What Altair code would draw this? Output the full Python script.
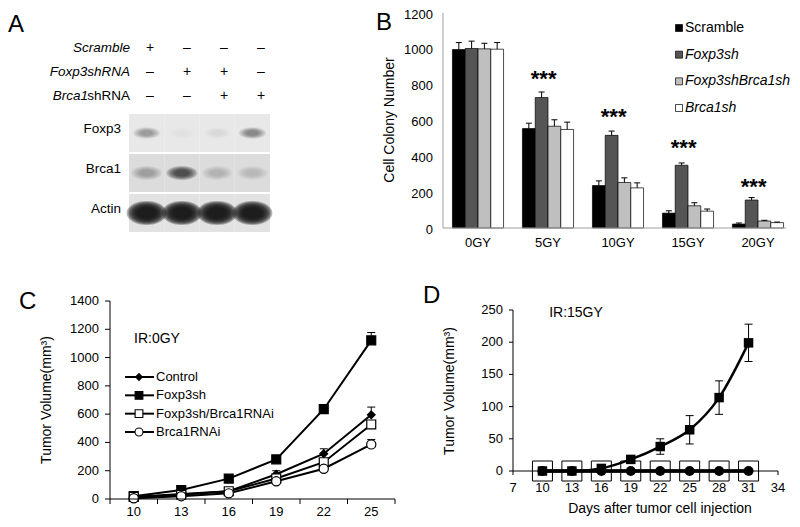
import numpy as np
import pandas as pd
import altair as alt

FONT = "Liberation Sans"
W, H = 784, 511


def px(v):
    return v - 8


# ---------------- Panel A (western blot) ----------------
lanes = ["L1", "L2", "L3", "L4"]
proteins = ["Foxp3", "Brca1", "Actin"]
foxp3_band = [0.35, 0.03, 0.04, 0.45]
brca1_band = [0.30, 0.95, 0.15, 0.13]
actin_band = [2.2, 2.2, 2.2, 2.2]
conditions = ["Scramble", "Foxp3shRNA", "Brca1shRNA"]
scramble_signs = ["+", "–", "–", "–"]
foxp3sh_signs = ["–", "+", "+", "–"]
brca1sh_signs = ["–", "–", "+", "+"]

# ---------------- Panel B (colony numbers) ----------------
doses = ["0GY", "5GY", "10GY", "15GY", "20GY"]
groups_b = ["Scramble", "Foxp3sh", "Foxp3shBrca1sh", "Brca1sh"]
scramble_b = [996, 555, 237, 83, 22]
scramble_b_err = [39, 30, 26, 13, 6]
foxp3sh_b = [1002, 728, 517, 350, 156]
foxp3sh_b_err = [41, 31, 24, 13, 14]
foxp3brca1_b = [1000, 568, 254, 124, 39]
foxp3brca1_b_err = [31, 36, 26, 17, 4]
brca1sh_b = [998, 550, 224, 94, 30]
brca1sh_b_err = [37, 41, 28, 12, 3]
star_doses = ["5GY", "10GY", "15GY", "20GY"]
star_levels = [861, 650, 472, 256]
b_yticks = [0, 200, 400, 600, 800, 1000, 1200]

# ---------------- Panel C (IR 0GY) ----------------
series_c = ["Control", "Foxp3sh", "Foxp3sh/Brca1RNAi", "Brca1RNAi"]
days_c = [10, 13, 16, 19, 22, 25]
control_c = [15, 35, 55, 175, 320, 595]
control_c_err = [4, 5, 8, 25, 35, 55]
foxp3sh_c = [20, 64, 144, 280, 635, 1122]
foxp3sh_c_err = [4, 5, 8, 12, 30, 55]
foxp3brca1_c = [15, 30, 55, 145, 260, 527]
foxp3brca1_c_err = [3, 3, 5, 10, 15, 20]
brca1_c = [5, 20, 40, 125, 214, 386]
brca1_c_err = [3, 3, 5, 10, 15, 35]
c_yticks = [0, 200, 400, 600, 800, 1000, 1200, 1400]

# ---------------- Panel D (IR 15GY) ----------------
days_d = [10, 13, 16, 19, 22, 25, 28, 31]
foxp3sh_d = [0, 0, 4, 18, 38, 64, 114, 199]
foxp3sh_d_err = [0, 0, 2, 3, 12, 22, 26, 29]
control_d = [0, 0, 0, 0, 0, 0, 0, 0]
foxp3brca1_d = [0, 0, 0, 0, 0, 0, 0, 0]
brca1_d = [0, 0, 0, 0, 0, 0, 0, 0]
d_yticks = [0, 50, 100, 150, 200, 250]
d_xticks = [7, 10, 13, 16, 19, 22, 25, 28, 31, 34]

TITLE_Y = "Tumor Volume(mm³)"


# =====================================================================
def ellipse_path(ry, n=40):
    t = np.linspace(0, 2 * np.pi, n, endpoint=False)
    pts = [f"{np.cos(a):.3f},{ry * np.sin(a):.3f}" for a in t]
    return "M" + " L".join(pts) + " Z"


def txt(df, **kw):
    base = dict(fontSize=13, font=FONT, color="black")
    base.update(kw)
    return alt.Chart(df).mark_text(**base)


def note(t, x, y, size=24, align="left", baseline="alphabetic", angle=0):
    return alt.Chart(pd.DataFrame({"t": [t]})).mark_text(
        align=align, baseline=baseline, fontSize=size, font=FONT, color="black", angle=angle
    ).encode(x=alt.value(x), y=alt.value(y), text="t:N")


def labels_df(vals):
    return pd.DataFrame({"v": vals, "lab": [str(v) for v in vals]})


bg_colors = {"Foxp3": "#e8e8e8", "Brca1": "#dcdcdc", "Actin": "#e2e2e2"}
band_geom = {"Foxp3": (22, 0.42), "Brca1": (25, 0.45), "Actin": (32, 0.6)}
halo_scales = [1.25, 1.15, 1.05, 0.95, 0.85, 0.75, 0.65, 0.55]

bg_rows, band_rows = [], []
for p, vals in zip(proteins, [foxp3_band, brca1_band, actin_band]):
    w, ry = band_geom[p]
    for lane, v in zip(lanes, vals):
        bg_rows.append({"lane": lane, "protein": p, "bg": bg_colors[p]})
        for k, s in enumerate(halo_scales):
            band_rows.append({"lane": lane, "protein": p, "lvl": k,
                              "shp": ellipse_path(ry), "sz": (w * s) ** 2,
                              "op": min(1.0, v * 0.15)})
bg_df = pd.DataFrame(bg_rows)
band_df = pd.DataFrame(band_rows)

lane_x = alt.Scale(type="band", domain=lanes, range=[px(129), px(270)],
                   paddingInner=0, paddingOuter=0)
prot_y = alt.Scale(type="band", domain=proteins, range=[px(114), px(232)],
                   paddingInner=0.05, paddingOuter=0)

blot_bg = alt.Chart(bg_df).mark_rect().encode(
    x=alt.X("lane:N", scale=lane_x, axis=None),
    y=alt.Y("protein:N", scale=prot_y, axis=None),
    fill=alt.Fill("bg:N", scale=None),
)
blot_bands = alt.Chart(band_df).mark_point(filled=True, color="#141414", strokeWidth=0).encode(
    x=alt.X("lane:N", scale=lane_x, axis=None),
    y=alt.Y("protein:N", scale=prot_y, axis=None),
    shape=alt.Shape("shp:N", scale=None),
    size=alt.Size("sz:Q", scale=None),
    opacity=alt.Opacity("op:Q", scale=None),
    order=alt.Order("lvl:Q"),
)
prot_labels = txt(pd.DataFrame({"protein": proteins}), align="right", baseline="middle",
                  fontSize=13.5, dy=-4).encode(
    x=alt.value(px(121)),
    y=alt.Y("protein:N", scale=prot_y, axis=None),
    text="protein:N",
)
G1 = alt.layer(blot_bg, blot_bands, prot_labels)

cond_y = alt.Scale(type="point", domain=conditions, range=[px(48), px(96)], padding=0)
sign_x = alt.Scale(type="point", domain=lanes, range=[px(150), px(261)], padding=0)
sign_rows = []
for c, signs in zip(conditions, [scramble_signs, foxp3sh_signs, brca1sh_signs]):
    for lane, s in zip(lanes, signs):
        sign_rows.append({"cond": c, "lane": lane, "sign": s})
sign_df = pd.DataFrame(sign_rows)

signs_layer = txt(sign_df, fontSize=14, baseline="middle", align="center").encode(
    x=alt.X("lane:N", scale=sign_x, axis=None),
    y=alt.Y("cond:N", scale=cond_y, axis=None),
    text="sign:N",
)
cond_df = pd.DataFrame({"cond": conditions,
                        "full": [conditions[0], conditions[1], conditions[2][:5]],
                        "rest": ["", "", conditions[2][5:]]})
cond_italic_full = txt(cond_df, align="right", baseline="middle", fontSize=13.5,
                       fontStyle="italic").transform_filter("datum.rest == ''").encode(
    x=alt.value(px(130)), y=alt.Y("cond:N", scale=cond_y, axis=None), text="full:N")
cond_italic_part = txt(cond_df, align="right", baseline="middle", fontSize=13.5,
                       fontStyle="italic").transform_filter("datum.rest != ''").encode(
    x=alt.value(px(88)), y=alt.Y("cond:N", scale=cond_y, axis=None), text="full:N")
cond_rest = txt(cond_df, align="right", baseline="middle", fontSize=13.5
                ).transform_filter("datum.rest != ''").encode(
    x=alt.value(px(130)), y=alt.Y("cond:N", scale=cond_y, axis=None), text="rest:N")
G2 = alt.layer(signs_layer, cond_italic_full, cond_italic_part, cond_rest)

G3 = alt.layer(
    note("A", px(8), px(32)),
    note("B", px(376), px(30)),
    note("C", px(19), px(309)),
    note("D", px(423), px(303)),
    note("IR:0GY", px(157), px(339), size=14, align="center", baseline="middle"),
    note("IR:15GY", px(576), px(313), size=14, align="center", baseline="middle"),
    note("Cell Colony Number", px(390), px(120), size=14, align="center",
         baseline="middle", angle=270),
    note(TITLE_Y, px(47), px(400), size=14, align="center", baseline="middle", angle=270),
    note(TITLE_Y, px(450), px(391), size=14, align="center", baseline="middle", angle=270),
    note("Days after tumor cell injection", px(660), px(509), size=14, align="center",
         baseline="middle"),
)

# ---------------- Panel B chart ----------------
rows_b = []
for g, vals, errs in zip(groups_b, [scramble_b, foxp3sh_b, foxp3brca1_b, brca1sh_b],
                         [scramble_b_err, foxp3sh_b_err, foxp3brca1_b_err, brca1sh_b_err]):
    for d, v, e in zip(doses, vals, errs):
        rows_b.append({"dose": d, "series": g, "value": v, "top": v + e})
df_b = pd.DataFrame(rows_b)
stars_df = pd.DataFrame({"dose": star_doses, "series": "Foxp3sh", "level": star_levels})

colors_b = ["#000000", "#555555", "#bfbfbf", "#ffffff"]
x_b = alt.Scale(type="band", domain=doses, range=[px(443), px(793)],
                paddingInner=0.27, paddingOuter=0.135)
y_b = alt.Scale(domain=[0, 1200], range=[px(228), px(13)], nice=False, zero=True)
xo_b = alt.Scale(domain=groups_b, paddingInner=0, paddingOuter=0)

bars_b = alt.Chart(df_b).mark_bar(stroke="black", strokeWidth=0.7).encode(
    x=alt.X("dose:N", scale=x_b, sort=doses, axis=None),
    xOffset=alt.XOffset("series:N", scale=xo_b, sort=groups_b),
    y=alt.Y("value:Q", scale=y_b, axis=None),
    fill=alt.Fill("series:N", scale=alt.Scale(domain=groups_b, range=colors_b), legend=None),
)
err_b = alt.Chart(df_b).mark_rule(color="black", strokeWidth=1).encode(
    x=alt.X("dose:N", scale=x_b, axis=None),
    xOffset=alt.XOffset("series:N", scale=xo_b),
    y=alt.Y("value:Q", scale=y_b, axis=None),
    y2="top:Q",
)
cap_b = alt.Chart(df_b).mark_tick(orient="horizontal", size=6, thickness=1, color="black",
                                  opacity=1).encode(
    x=alt.X("dose:N", scale=x_b, axis=None),
    xOffset=alt.XOffset("series:N", scale=xo_b),
    y=alt.Y("top:Q", scale=y_b, axis=None),
)
stars_b = alt.Chart(stars_df).mark_text(
    text="***", fontSize=22, fontWeight="bold", font=FONT, baseline="alphabetic",
    dy=12, dx=2, color="black"
).encode(
    x=alt.X("dose:N", scale=x_b, axis=None),
    xOffset=alt.XOffset("series:N", scale=xo_b),
    y=alt.Y("level:Q", scale=y_b, axis=None),
)
b_ydom = alt.Chart(pd.DataFrame({"lo": [b_yticks[0]], "hi": [b_yticks[-1]]})).mark_rule(
    color="#a0a0a0", strokeWidth=1).encode(
    x=alt.value(px(443)), y=alt.Y("lo:Q", scale=y_b, axis=None), y2="hi:Q")
b_ylab = txt(labels_df(b_yticks), align="right", baseline="middle", dy=1.5).encode(
    x=alt.value(px(433)), y=alt.Y("v:Q", scale=y_b, axis=None), text="lab:N")
b_xdom = alt.Chart(pd.DataFrame({"lo": [b_yticks[0]]})).mark_rule(
    color="#a0a0a0", strokeWidth=1).encode(
    x=alt.value(px(443)), x2=alt.value(px(786)), y=alt.Y("lo:Q", scale=y_b, axis=None))
b_xlab = txt(pd.DataFrame({"dose": doses}), align="center", baseline="middle").encode(
    x=alt.X("dose:N", scale=x_b, axis=None), y=alt.value(px(243)), text="dose:N")
G4 = alt.layer(bars_b, err_b, cap_b, stars_b, b_ydom, b_ylab, b_xdom, b_xlab)

leg_b = pd.DataFrame({"series": groups_b, "col": colors_b})
leg_y_b = alt.Scale(type="point", domain=groups_b, range=[px(28), px(108)], padding=0)
leg_sq = alt.Chart(leg_b).mark_square(size=49, stroke="black", strokeWidth=0.7,
                                      opacity=1).encode(
    x=alt.value(px(679)),
    y=alt.Y("series:N", scale=leg_y_b, axis=None),
    fill=alt.Fill("col:N", scale=None),
)
leg_txt_n = txt(leg_b, align="left", baseline="middle", fontSize=14).transform_filter(
    "datum.series == 'Scramble'").encode(
    x=alt.value(px(685)), y=alt.Y("series:N", scale=leg_y_b, axis=None), text="series:N")
leg_txt_i = txt(leg_b, align="left", baseline="middle", fontSize=14,
                fontStyle="italic").transform_filter("datum.series != 'Scramble'").encode(
    x=alt.value(px(685)), y=alt.Y("series:N", scale=leg_y_b, axis=None), text="series:N")
G5 = alt.layer(leg_sq, leg_txt_n, leg_txt_i)

# ---------------- Panel C chart ----------------
marker = {
    "Control": ("diamond", "black", 60),
    "Foxp3sh": ("square", "black", 80),
    "Foxp3sh/Brca1RNAi": ("square", "white", 80),
    "Brca1RNAi": ("circle", "white", 85),
}
rows_c = []
for s, vals, errs in zip(series_c, [control_c, foxp3sh_c, foxp3brca1_c, brca1_c],
                         [control_c_err, foxp3sh_c_err, foxp3brca1_c_err, brca1_c_err]):
    for d, v, e in zip(days_c, vals, errs):
        shp, fc, sz = marker[s]
        rows_c.append({"day": d, "series": s, "value": v, "top": v + e,
                       "shp": shp, "fc": fc, "sz": sz})
df_c = pd.DataFrame(rows_c)

x_c = alt.Scale(type="band", domain=days_c, range=[px(110), px(395)],
                paddingInner=0, paddingOuter=0)
y_c = alt.Scale(domain=[0, 1400], range=[px(499), px(301)], nice=False)

err_c = alt.Chart(df_c).mark_rule(color="black", strokeWidth=1).encode(
    x=alt.X("day:O", scale=x_c, axis=None),
    y=alt.Y("value:Q", scale=y_c, axis=None),
    y2="top:Q",
)
cap_c = alt.Chart(df_c).mark_tick(orient="horizontal", size=8, thickness=1, color="black",
                                  opacity=1).encode(
    x=alt.X("day:O", scale=x_c, axis=None),
    y=alt.Y("top:Q", scale=y_c, axis=None),
)
lines_c = alt.Chart(df_c).mark_line(color="black", strokeWidth=2).encode(
    x=alt.X("day:O", scale=x_c, axis=None),
    y=alt.Y("value:Q", scale=y_c, axis=None),
    detail="series:N",
)
pts_c = alt.Chart(df_c).mark_point(filled=True, stroke="black", strokeWidth=1.2,
                                   opacity=1).encode(
    x=alt.X("day:O", scale=x_c, axis=None),
    y=alt.Y("value:Q", scale=y_c, axis=None),
    shape=alt.Shape("shp:N", scale=None),
    fill=alt.Fill("fc:N", scale=None),
    size=alt.Size("sz:Q", scale=None),
)
c_ydom = alt.Chart(pd.DataFrame({"lo": [c_yticks[0]], "hi": [c_yticks[-1]]})).mark_rule(
    color="black", strokeWidth=1).encode(
    x=alt.value(px(110)), y=alt.Y("lo:Q", scale=y_c, axis=None), y2="hi:Q")
c_ytick = alt.Chart(labels_df(c_yticks)).mark_rule(color="black", strokeWidth=1).encode(
    x=alt.value(px(105)), x2=alt.value(px(110)), y=alt.Y("v:Q", scale=y_c, axis=None))
c_ylab = txt(labels_df(c_yticks), align="right", baseline="middle").encode(
    x=alt.value(px(99)), y=alt.Y("v:Q", scale=y_c, axis=None), text="lab:N")
c_xdom = alt.Chart(pd.DataFrame({"lo": [c_yticks[0]]})).mark_rule(
    color="black", strokeWidth=1).encode(
    x=alt.value(px(110)), x2=alt.value(px(395)), y=alt.Y("lo:Q", scale=y_c, axis=None))
c_days = pd.DataFrame({"day": days_c, "lab": [str(d) for d in days_c]})
c_xtick0 = alt.Chart(c_days).mark_rule(color="black", strokeWidth=1).encode(
    x=alt.X("day:O", scale=x_c, axis=None, bandPosition=0),
    y=alt.value(px(499)), y2=alt.value(px(504)))
c_xtick1 = alt.Chart(c_days).transform_filter(f"datum.day == {days_c[-1]}").mark_rule(
    color="black", strokeWidth=1).encode(
    x=alt.X("day:O", scale=x_c, axis=None, bandPosition=1),
    y=alt.value(px(499)), y2=alt.value(px(504)))
c_xlab = txt(c_days, align="center", baseline="middle").encode(
    x=alt.X("day:O", scale=x_c, axis=None), y=alt.value(px(512)), text="lab:N")
G6 = alt.layer(err_c, cap_c, lines_c, pts_c, c_ydom, c_ytick, c_ylab, c_xdom,
               c_xtick0, c_xtick1, c_xlab)

leg_c = pd.DataFrame({"series": series_c,
                      "shp": [marker[s][0] for s in series_c],
                      "fc": [marker[s][1] for s in series_c],
                      "sz": [marker[s][2] * 0.75 for s in series_c]})
leg_y_c = alt.Scale(type="point", domain=series_c, range=[px(377), px(432)], padding=0)
leg_c_line = alt.Chart(leg_c).mark_rule(color="black", strokeWidth=2).encode(
    x=alt.value(px(125)), x2=alt.value(px(154)),
    y=alt.Y("series:N", scale=leg_y_c, axis=None),
)
leg_c_pt = alt.Chart(leg_c).mark_point(filled=True, stroke="black", strokeWidth=1.1,
                                       opacity=1).encode(
    x=alt.value(px(139)),
    y=alt.Y("series:N", scale=leg_y_c, axis=None),
    shape=alt.Shape("shp:N", scale=None),
    fill=alt.Fill("fc:N", scale=None),
    size=alt.Size("sz:Q", scale=None),
)
leg_c_txt = txt(leg_c, align="left", baseline="middle").encode(
    x=alt.value(px(156)), y=alt.Y("series:N", scale=leg_y_c, axis=None), text="series:N")
G7 = alt.layer(leg_c_line, leg_c_pt, leg_c_txt)

# ---------------- Panel D chart ----------------
rows_d = []
for s, vals, errs in zip(series_c, [control_d, foxp3sh_d, foxp3brca1_d, brca1_d],
                         [[0] * 8, foxp3sh_d_err, [0] * 8, [0] * 8]):
    for d, v, e in zip(days_d, vals, errs):
        rows_d.append({"day": d, "series": s, "value": v, "lo": v - e, "hi": v + e, "err": e})
df_d = pd.DataFrame(rows_d)

x_d = alt.Scale(domain=[7, 34], range=[px(513), px(778)], nice=False, zero=False)
y_d = alt.Scale(domain=[0, 250], range=[px(471), px(310)], nice=False)

zero_line = alt.Chart(df_d).transform_filter("datum.series != 'Foxp3sh'").mark_line(
    color="black", strokeWidth=3
).encode(x=alt.X("day:Q", scale=x_d, axis=None), y=alt.Y("value:Q", scale=y_d, axis=None),
         detail="series:N")
curve_d = alt.Chart(df_d).transform_filter("datum.series == 'Foxp3sh'").mark_line(
    color="black", strokeWidth=2.5, interpolate="monotone"
).encode(x=alt.X("day:Q", scale=x_d, axis=None), y=alt.Y("value:Q", scale=y_d, axis=None))
errsel = "datum.series == 'Foxp3sh' && datum.err > 0"
err_d = alt.Chart(df_d).transform_filter(errsel).mark_rule(color="black", strokeWidth=1).encode(
    x=alt.X("day:Q", scale=x_d, axis=None), y=alt.Y("lo:Q", scale=y_d, axis=None), y2="hi:Q")
caphi_d = alt.Chart(df_d).transform_filter(errsel).mark_tick(
    orient="horizontal", size=8, thickness=1, color="black", opacity=1
).encode(x=alt.X("day:Q", scale=x_d, axis=None), y=alt.Y("hi:Q", scale=y_d, axis=None))
caplo_d = alt.Chart(df_d).transform_filter(errsel).mark_tick(
    orient="horizontal", size=8, thickness=1, color="black", opacity=1
).encode(x=alt.X("day:Q", scale=x_d, axis=None), y=alt.Y("lo:Q", scale=y_d, axis=None))
sq_d = alt.Chart(df_d).transform_filter("datum.series == 'Foxp3sh'").mark_square(
    size=90, color="black", opacity=1
).encode(x=alt.X("day:Q", scale=x_d, axis=None), y=alt.Y("value:Q", scale=y_d, axis=None))
open_sq_d = alt.Chart(df_d).transform_filter("datum.series == 'Foxp3sh/Brca1RNAi'").mark_point(
    shape="square", size=400, filled=False, stroke="black", strokeWidth=1, opacity=1
).encode(x=alt.X("day:Q", scale=x_d, axis=None), y=alt.Y("value:Q", scale=y_d, axis=None))
circ_d = alt.Chart(df_d).transform_filter("datum.series == 'Control'").mark_circle(
    size=100, color="black", opacity=1
).encode(x=alt.X("day:Q", scale=x_d, axis=None), y=alt.Y("value:Q", scale=y_d, axis=None))
d_ydom = alt.Chart(pd.DataFrame({"lo": [d_yticks[0]], "hi": [d_yticks[-1]]})).mark_rule(
    color="black", strokeWidth=1).encode(
    x=alt.value(px(513)), y=alt.Y("lo:Q", scale=y_d, axis=None), y2="hi:Q")
d_ytick = alt.Chart(labels_df(d_yticks)).mark_rule(color="black", strokeWidth=1).encode(
    x=alt.value(px(509)), x2=alt.value(px(513)), y=alt.Y("v:Q", scale=y_d, axis=None))
d_ylab = txt(labels_df(d_yticks), align="right", baseline="middle").encode(
    x=alt.value(px(503)), y=alt.Y("v:Q", scale=y_d, axis=None), text="lab:N")
d_xdom = alt.Chart(pd.DataFrame({"lo": [d_xticks[0]], "hi": [d_xticks[-1]]})).mark_rule(
    color="black", strokeWidth=1).encode(
    x=alt.X("lo:Q", scale=x_d, axis=None), x2="hi:Q", y=alt.value(px(471)))
d_xtick = alt.Chart(labels_df(d_xticks)).mark_rule(color="black", strokeWidth=1).encode(
    x=alt.X("v:Q", scale=x_d, axis=None), y=alt.value(px(471)), y2=alt.value(px(475)))
d_xlab = txt(labels_df(d_xticks), align="center", baseline="middle").encode(
    x=alt.X("v:Q", scale=x_d, axis=None), y=alt.value(px(488)), text="lab:N")
G8 = alt.layer(zero_line, curve_d, err_d, caphi_d, caplo_d, sq_d, open_sq_d, circ_d,
               d_ydom, d_ytick, d_ylab, d_xdom, d_xtick, d_xlab)

chart = alt.layer(G1, G2, G3, G4, G5, G6, G7, G8).resolve_scale(
    x="independent", y="independent"
).properties(
    width=W, height=H, padding=0,
    autosize=alt.AutoSizeParams(type="none"),
).configure(font=FONT).configure_view(stroke=None)

chart.save("out.html", embed_options={"renderer": "svg", "actions": False})
